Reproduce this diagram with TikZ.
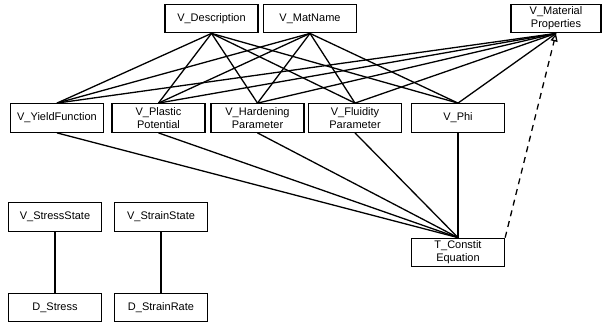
\documentclass[tikz,border=0pt]{standalone}
\usepackage{fontspec}
\setmainfont{Liberation Sans}
\usetikzlibrary{arrows.meta}

\begin{document}
\begin{tikzpicture}[x=1pt, y=-1pt, line width=1.3pt,
                    box/.style={draw, rectangle, minimum width=93pt, minimum height=28.5pt,
                                inner sep=1pt, align=center,
                                font=\fontsize{11}{12.8}\selectfont},
                    link/.style={line width=1.3pt},
                    realize/.style={line width=1.3pt, dash pattern=on 6pt off 5pt,
                                    -{Triangle[open,length=8pt,width=7pt]}}]
    \useasboundingbox (0,0) rectangle (602,322);

    % top row
    \node[box] (desc)    at (211.5,18.5) {V\_Description};
    \node[box] (matname) at (310,18.5)   {V\_MatName};
    \node[box, minimum width=90pt] (matprop) at (556,18.5) {V\_Material\\Properties};

    % middle row
    \node[box] (yield)   at (57,118)    {V\_YieldFunction};
    \node[box] (plastic) at (158.5,118) {V\_Plastic\\Potential};
    \node[box] (harden)  at (257.5,118) {V\_Hardening\\Parameter};
    \node[box] (fluid)   at (355,118)   {V\_Fluidity\\Parameter};
    \node[box] (phi)     at (458,118)   {V\_Phi};

    % lower part
    \node[box] (stress)     at (55,217)  {V\_StressState};
    \node[box] (strain)     at (161,217)   {V\_StrainState};
    \node[box] (constit)    at (458,252.5) {T\_Constit\\Equation};
    \node[box] (dstress)    at (55,307.5) {D\_Stress};
    \node[box] (dstrainrate) at (161,307.5) {D\_StrainRate};

    \path[link]
    (desc.south) edge (yield.north)
                 edge (plastic.north)
                 edge (harden.north)
                 edge (fluid.north)
                 edge (phi.north)
    (matname.south) edge (yield.north)
                    edge (plastic.north)
                    edge (harden.north)
                    edge (fluid.north)
                    edge (phi.north)
    (matprop.south) edge (yield.north)
                    edge (plastic.north)
                    edge (harden.north)
                    edge (fluid.north)
                    edge (phi.north)
    (constit.north) edge (yield.south)
                    edge (plastic.south)
                    edge (harden.south)
                    edge (fluid.south)
                    edge (phi.south)
    (stress) edge (dstress)
    (strain) edge (dstrainrate);

    \draw[realize] (constit.north east) -- (matprop.south);
\end{tikzpicture}
\end{document}
